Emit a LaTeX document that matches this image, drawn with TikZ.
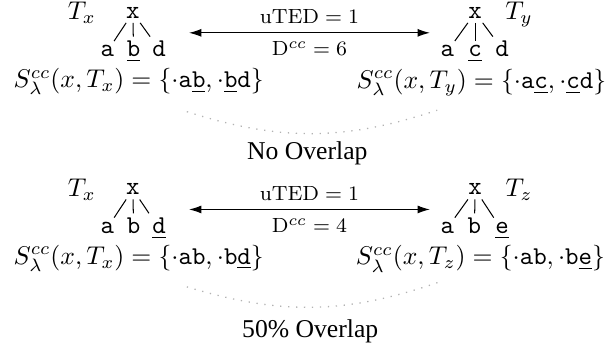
\documentclass[tikz,border=0pt]{standalone}
\usepackage[no-math]{fontspec}
\setmainfont{Liberation Serif}
\usepackage{amsmath,amssymb}
\usetikzlibrary{arrows.meta,positioning}
\tikzset{
  treelabel/.style={anchor=base,inner sep=0pt,font=\normalsize},
  treenode/.style={anchor=base,inner sep=1.6pt,font=\ttfamily},
  treeedge/.style={line width=0.4pt,draw=black},
  setbox/.style={anchor=base west,inner sep=0pt,font=\normalsize},
  distarrow/.style={{Latex[length=1.7mm,width=1.1mm]}-{Latex[length=1.7mm,width=1.1mm]},
    line width=0.4pt,draw=black},
  distlabel/.style={font=\footnotesize},
  overlaparc/.style={draw=gray!60,line width=0.5pt,dash pattern=on 0.5pt off 2.6pt},
  overlaptext/.style={font=\normalsize},
}

\begin{document}
\begin{tikzpicture}
  \useasboundingbox (0,0) rectangle (8.371,-4.781);
  % no overlap
  \node[treelabel] (tx1) at (1.12,-0.27) {$T_x$};
  \node[treenode] (rx1) at (1.82,-0.25) {x};
  \node[treenode] (ax1) at (1.47,-0.78) {a};
  \node[treenode] (bx1) at (1.83,-0.78) {\underline{b}};
  \node[treenode] (dx1) at (2.18,-0.78) {d};
  \draw[treeedge] (rx1) -- (ax1);
  \draw[treeedge] (rx1) -- (bx1);
  \draw[treeedge] (rx1) -- (dx1);
  \node[setbox] (sx1) at (0.18,-1.2)
    {$S^{cc}_{\lambda}(x,T_x)=\{\cdot\texttt{a\underline{b}},\cdot\texttt{\underline{b}d}\}$};
  \node[treenode] (ry) at (6.51,-0.25) {x};
  \node[treelabel] (ty) at (7.11,-0.27) {$T_y$};
  \node[treenode] (ay) at (6.13,-0.78) {a};
  \node[treenode] (cy) at (6.51,-0.78) {\underline{c}};
  \node[treenode] (dy) at (6.88,-0.78) {d};
  \draw[treeedge] (ry) -- (ay);
  \draw[treeedge] (ry) -- (cy);
  \draw[treeedge] (ry) -- (dy);
  \node[setbox] (sy) at (4.88,-1.21)
    {$S^{cc}_{\lambda}(x,T_y)=\{\cdot\texttt{a\underline{c}},\cdot\texttt{\underline{c}d}\}$};
  \coordinate (l1) at (2.59,-0.45);
  \coordinate (r1) at (5.89,-0.45);
  \draw[distarrow] (l1) -- node[distlabel,above] (ted1) {$\mathrm{uTED}=1$}
    node[distlabel,below] (dcc1) {$\mathrm{D}^{cc}=6$} (r1);
  \coordinate (o1a) at (2.56,-1.53);
  \coordinate (o1b) at (5.99,-1.51);
  \draw[overlaparc] (o1a) to[bend right=18] (o1b);
  \node[overlaptext] (no) at (4.21,-2.1) {No Overlap};

  % half overlap
  \node[treelabel] (tx2) at (1.12,-2.69) {$T_x$};
  \node[treenode] (rx2) at (1.82,-2.67) {x};
  \node[treenode] (ax2) at (1.47,-3.2) {a};
  \node[treenode] (bx2) at (1.83,-3.2) {b};
  \node[treenode] (dx2) at (2.18,-3.2) {\underline{d}};
  \draw[treeedge] (rx2) -- (ax2);
  \draw[treeedge] (rx2) -- (bx2);
  \draw[treeedge] (rx2) -- (dx2);
  \node[setbox] (sx2) at (0.18,-3.62)
    {$S^{cc}_{\lambda}(x,T_x)=\{\cdot\texttt{ab},\cdot\texttt{b\underline{d}}\}$};
  \node[treenode] (rz) at (6.51,-2.67) {x};
  \node[treelabel] (tz) at (7.11,-2.69) {$T_z$};
  \node[treenode] (az) at (6.13,-3.2) {a};
  \node[treenode] (bz) at (6.5,-3.2) {b};
  \node[treenode] (ez) at (6.88,-3.2) {\underline{e}};
  \draw[treeedge] (rz) -- (az);
  \draw[treeedge] (rz) -- (bz);
  \draw[treeedge] (rz) -- (ez);
  \node[setbox] (sz) at (4.87,-3.63)
    {$S^{cc}_{\lambda}(x,T_z)=\{\cdot\texttt{ab},\cdot\texttt{b\underline{e}}\}$};
  \coordinate (l2) at (2.59,-2.87);
  \coordinate (r2) at (5.89,-2.87);
  \draw[distarrow] (l2) -- node[distlabel,above] (ted2) {$\mathrm{uTED}=1$}
    node[distlabel,below] (dcc2) {$\mathrm{D}^{cc}=4$} (r2);
  \coordinate (o2a) at (2.56,-3.93);
  \coordinate (o2b) at (6.03,-3.86);
  \draw[overlaparc] (o2a) to[bend right=18] (o2b);
  \node[overlaptext] (half) at (4.25,-4.54) {50\% Overlap};
\end{tikzpicture}
\end{document}
